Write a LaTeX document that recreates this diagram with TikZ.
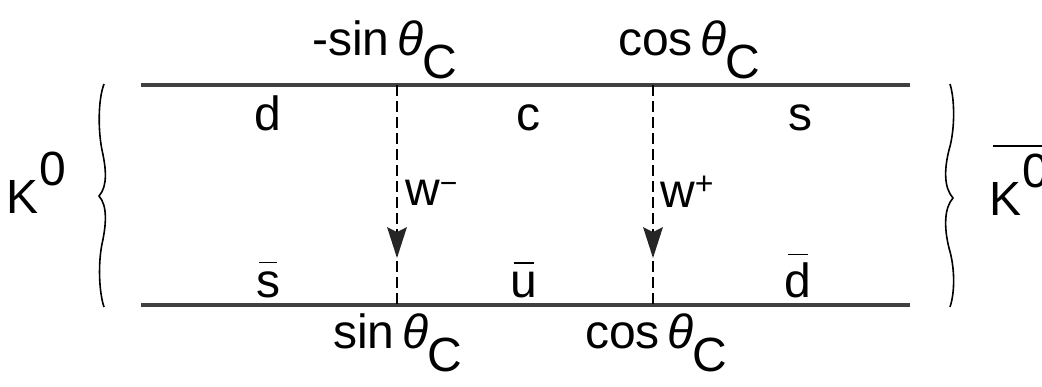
\documentclass[tikz,border=0pt]{standalone}
\usepackage{fontspec}
\setmainfont{Liberation Sans}
\newcommand\qbar[2]{\leavevmode\setbox0\hbox{#1}\rlap{\hbox to \wd0{\hss\raisebox{\dimexpr\ht0+#2\relax}{\rule{0.75\wd0}{1.4pt}}\hss}}\box0}
\newcommand\thc{{\itshape θ}\kern-1pt\raisebox{-23pt}{C}}
\tikzset{
  lbl/.style={inner sep=0pt, anchor=base, font=\fontsize{48}{52}\selectfont},
  lblw/.style={inner sep=0pt, anchor=base west, font=\fontsize{48}{52}\selectfont},
  quark/.style={line width=3.2pt, draw=black!75},
  prop/.style={line width=1.3pt, dash pattern=on 11pt off 5pt},
  tip/.style={fill=black!85},
  brace/.style={line width=1.6pt, line join=miter}
}
\begin{document}
\begin{tikzpicture}[x=1pt,y=-1pt]
\useasboundingbox (0,0) rectangle (1042,386);
% quark lines
\coordinate (tl) at (141,85);
\coordinate (tr) at (910,85);
\coordinate (bl) at (141,305);
\coordinate (br) at (910,305);
\draw[quark] (tl) -- (tr);
\draw[quark] (bl) -- (br);
% W propagators
\coordinate (v1t) at (397,85);
\coordinate (v1b) at (397,305);
\coordinate (v2t) at (653,85);
\coordinate (v2b) at (653,305);
\draw[prop] (v1t) -- (v1b);
\draw[prop] (v2t) -- (v2b);
\coordinate (a1) at (397,258);
\coordinate (a2) at (653,258);
\fill[tip] (a1) -- ++(-10,-31) -- ++(10,5) -- ++(10,-5) -- cycle;
\fill[tip] (a2) -- ++(-10,-31) -- ++(10,5) -- ++(10,-5) -- cycle;
% labels
\node[lblw] (wm) at (405,205) {w\raisebox{12pt}{\fontsize{30}{30}\selectfont −}};
\node[lblw] (wp) at (660,207) {w\raisebox{13pt}{\fontsize{32}{32}\selectfont +}};
\node[lbl] (qd) at (268,130) {d};
\node[lbl] (qc) at (528,130) {c};
\node[lbl] (qs) at (800,130) {s};
\node[lbl] (qsb) at (268,297) {\qbar{s}{8pt}};
\node[lbl] (qub) at (524,297) {\qbar{u}{8pt}};
\node[lbl] (qdb) at (798,297) {\qbar{d}{7pt}};
\node[lblw] (ct1) at (312,55) {-sin\,\thc};
\node[lblw] (ct2) at (618,55) {cos\,\thc};
\node[lblw] (cb1) at (333,348) {sin\,\thc};
\node[lblw] (cb2) at (585,348) {cos\,\thc};
% kaons
\node[lblw] (k0) at (6,213) {K\kern1pt\raisebox{28pt}{0}};
\node[lblw] (k0b) at (989,215) {K\kern1pt\raisebox{28pt}{0}};
\draw[line width=1.5pt] (993,146) -- (1042,146);
% braces
\draw[brace] (104,84) .. controls (98,100) and (98,130) .. (102,150)
  .. controls (106,168) and (108,186) .. (99,196)
  .. controls (108,206) and (106,226) .. (102,244)
  .. controls (98,264) and (99,292) .. (104,307);
\draw[brace] (950,84) .. controls (955,100) and (955,130) .. (949,150)
  .. controls (944,170) and (944,188) .. (953,198)
  .. controls (944,208) and (944,228) .. (949,248)
  .. controls (955,268) and (955,292) .. (950,307);
\end{tikzpicture}
\end{document}
